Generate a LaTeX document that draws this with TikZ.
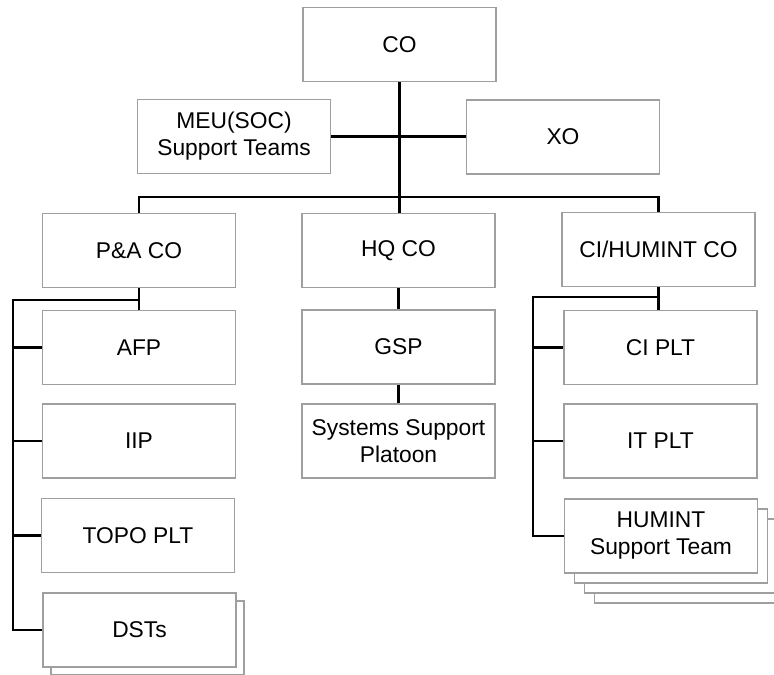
\documentclass[tikz,border=0pt]{standalone}
\usepackage{fontspec}
\setmainfont{Liberation Sans}
\usetikzlibrary{positioning}
\tikzset{unitbox/.style={draw=gray!75, line width=0.7pt, fill=white,
					minimum width=96.5pt, minimum height=37pt, inner sep=0pt,
					align=center, font=\fontsize{11.4}{13.5}\selectfont},
		link/.style={draw=black, line width=1.1pt}}

\begin{document}
\begin{tikzpicture}[x=0.5pt, y=-0.5pt]

					\useasboundingbox (0,0) rectangle (774,674);

					% top rows
					\node[unitbox] (CO)  at (399.5,44.5) {CO};
					\node[unitbox] (MEU) at (234,136.5)  {MEU(SOC)\\Support Teams};
					\node[unitbox] (XO)  at (563,137)    {XO};

					\node[unitbox] (PA)  at (139,250.5)   {P\&A CO};
					\node[unitbox] (HQ)  at (398.5,250.5) {HQ CO};
					\node[unitbox] (CIH) at (658.5,249.5) {CI/HUMINT CO};

					% left column
					\node[unitbox] (AFP)  at (139,347.5) {AFP};
					\node[unitbox] (IIP)  at (139,441)   {IIP};
					\node[unitbox] (TOPO) at (138,535.5) {TOPO PLT};
					\node[unitbox] (DSTsA) at (147.5,638) {};
					\node[unitbox] (DSTs) at (139.5,630) {DSTs};

					% middle column
					\node[unitbox] (GSP) at (398.5,347) {GSP};
					\node[unitbox] (SSP) at (398.5,441) {Systems Support\\Platoon};

					% right column
					\node[unitbox] (CIP) at (660.5,347.5) {CI PLT};
					\node[unitbox] (ITP) at (660.5,441)   {IT PLT};
					\node[unitbox] (HUMC) at (691,566) {};
					\node[unitbox] (HUMB) at (681,556) {};
					\node[unitbox] (HUMA) at (671,546) {};
					\node[unitbox] (HUM)  at (661,536) {HUMINT\\Support Team};

					% connectors
					\coordinate (bus) at (399,197);
					\coordinate (paleft) at (13,300);
					\coordinate (cileft) at (533,297);

					\draw[link] (CO.south) -- (CO.south |- HQ.north);
					\draw[link] (MEU.east) -- (MEU.east -| XO.west);
					\draw[link] (PA.north) |- (bus) -| (CIH.north);

					\draw[link] (PA.south) -- (PA.south |- AFP.north);
					\draw[link] (PA.south |- paleft) -- (paleft) |- (DSTs.west);
					\foreach \b in {AFP,IIP,TOPO}
						\draw[link] (paleft |- \b.west) -- (\b.west);

					\draw[link] (HQ.south) -- (GSP.north);
					\draw[link] (GSP.south) -- (SSP.north);

					\draw[link] (CIH.south) -- (CIH.south |- CIP.north);
					\draw[link] (CIH.south |- cileft) -- (cileft) |- (HUM.west);
					\foreach \b in {CIP,ITP}
						\draw[link] (cileft |- \b.west) -- (\b.west);

\end{tikzpicture}
\end{document}
